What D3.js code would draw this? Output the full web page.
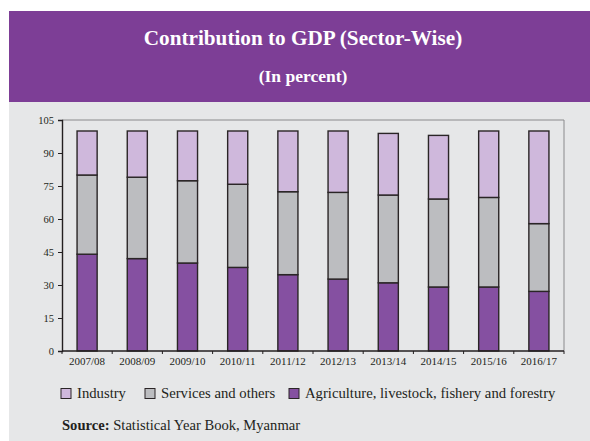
<!DOCTYPE html>
<html>
<head>
<meta charset="utf-8">
<script src="https://cdn.jsdelivr.net/npm/d3@7/dist/d3.min.js"></script>
<style>
  html, body { margin: 0; padding: 0; background: #ffffff; }
  svg { display: block; }
  text { font-family: "Liberation Serif", "Times New Roman", serif; }
</style>
</head>
<body>
<svg id="chart" width="590" height="441"></svg>
<script>
// Fiscal years
const years = ["2007/08", "2008/09", "2009/10", "2010/11", "2011/12",
               "2012/13", "2013/14", "2014/15", "2015/16", "2016/17"];
// Share of GDP by sector (percent)
const agriculture = [44, 42, 40, 38, 34.7, 32.7, 31, 29.1, 29.1, 27.1];
const services    = [36, 37, 37.4, 37.8, 37.7, 39.4, 39.9, 40, 40.7, 30.8];
const industry    = [20, 21, 22.6, 24.2, 27.6, 27.9, 28, 28.9, 30.2, 42.1];
const yTicks = [0, 15, 30, 45, 60, 75, 90, 105];

const sectors = [
  { key: "agri", name: "Agriculture, livestock, fishery and forestry", values: agriculture, color: "#8550a1" },
  { key: "serv", name: "Services and others", values: services, color: "#bcbdc0" },
  { key: "ind",  name: "Industry", values: industry, color: "#cfb8dc" }
];

const svg = d3.select("#chart");
const W = 590, H = 441;

// Page panels
svg.append("rect").attr("x", 9).attr("y", 101).attr("width", W - 9).attr("height", H - 101).attr("fill", "#e6e7e8");
svg.append("rect").attr("x", 9).attr("y", 11).attr("width", W - 9).attr("height", 91).attr("fill", "#7d3e96");

svg.append("text").attr("x", 303).attr("y", 45).attr("text-anchor", "middle")
  .attr("fill", "#ffffff").attr("font-weight", "bold").attr("font-size", 21.2)
  .text("Contribution to GDP (Sector-Wise)");
svg.append("text").attr("x", 303).attr("y", 82).attr("text-anchor", "middle")
  .attr("fill", "#ffffff").attr("font-weight", "bold").attr("font-size", 17.5)
  .text("(In percent)");

// Plot area
const plotL = 62, plotR = 564, plotT = 120, plotB = 351;

const x = d3.scaleBand().domain(years).range([plotL, plotR]).paddingInner(0.6).paddingOuter(0.3);
const y = d3.scaleLinear().domain([0, 105]).range([plotB, plotT]);

// Frame on top and right
svg.append("path")
  .attr("d", `M${plotL},${plotT}H${plotR}V${plotB}`)
  .attr("fill", "none").attr("stroke", "#8a8a8c").attr("stroke-width", 1);

// Stack
const rows = years.map((yr, i) => ({ year: yr, agri: agriculture[i], serv: services[i], ind: industry[i] }));
const stacked = d3.stack().keys(sectors.map(s => s.key))(rows);

const g = svg.append("g");
stacked.forEach((layer, li) => {
  g.selectAll(null).data(layer).enter().append("rect")
    .attr("x", d => x(d.data.year))
    .attr("width", x.bandwidth())
    .attr("y", d => y(d[1]))
    .attr("height", d => y(d[0]) - y(d[1]))
    .attr("fill", sectors[li].color)
    .attr("stroke", "#2a2526")
    .attr("stroke-width", 1.4);
});

// Y axis
const yAxis = d3.axisLeft(y).tickValues(yTicks).tickSize(4).tickPadding(4);
const yg = svg.append("g").attr("transform", `translate(${plotL},0)`).call(yAxis);
yg.select(".domain").attr("stroke", "#231f20").attr("stroke-width", 1.4);
yg.selectAll(".tick line").attr("stroke", "#231f20");
yg.selectAll("text").attr("font-family", "Liberation Serif, serif").attr("font-size", 10.5).attr("fill", "#231f20");

// X axis with ticks at category boundaries
const xg = svg.append("g").attr("transform", `translate(0,${plotB})`);
xg.append("line").attr("x1", plotL).attr("x2", plotR).attr("stroke", "#231f20").attr("stroke-width", 1.4);
xg.selectAll(".bt").data(d3.range(0, years.length + 1)).enter().append("line")
  .attr("x1", i => plotL + i * x.step())
  .attr("x2", i => plotL + i * x.step())
  .attr("y1", 0).attr("y2", 3)
  .attr("stroke", "#231f20");
xg.selectAll(".lbl").data(years).enter().append("text")
  .attr("x", d => x(d) + x.bandwidth() / 2)
  .attr("y", 14)
  .attr("text-anchor", "middle")
  .attr("font-size", 11).attr("fill", "#231f20")
  .text(d => d);

// Legend
const legendItems = [
  { name: "Industry", color: "#cfb8dc", x: 61 },
  { name: "Services and others", color: "#bcbdc0", x: 145 },
  { name: "Agriculture, livestock, fishery and forestry", color: "#8550a1", x: 289 }
];
const lg = svg.append("g");
legendItems.forEach(it => {
  lg.append("rect").attr("x", it.x).attr("y", 388.5).attr("width", 10).attr("height", 10)
    .attr("fill", it.color).attr("stroke", "#2a2526").attr("stroke-width", 1);
  lg.append("text").attr("x", it.x + 16).attr("y", 398).attr("font-size", 14.7).attr("fill", "#231f20")
    .text(it.name);
});

// Source note
const src = svg.append("text").attr("x", 62).attr("y", 430).attr("font-size", 14.6).attr("fill", "#231f20");
src.append("tspan").attr("font-weight", "bold").text("Source:");
src.append("tspan").text(" Statistical Year Book, Myanmar");
</script>
</body>
</html>
